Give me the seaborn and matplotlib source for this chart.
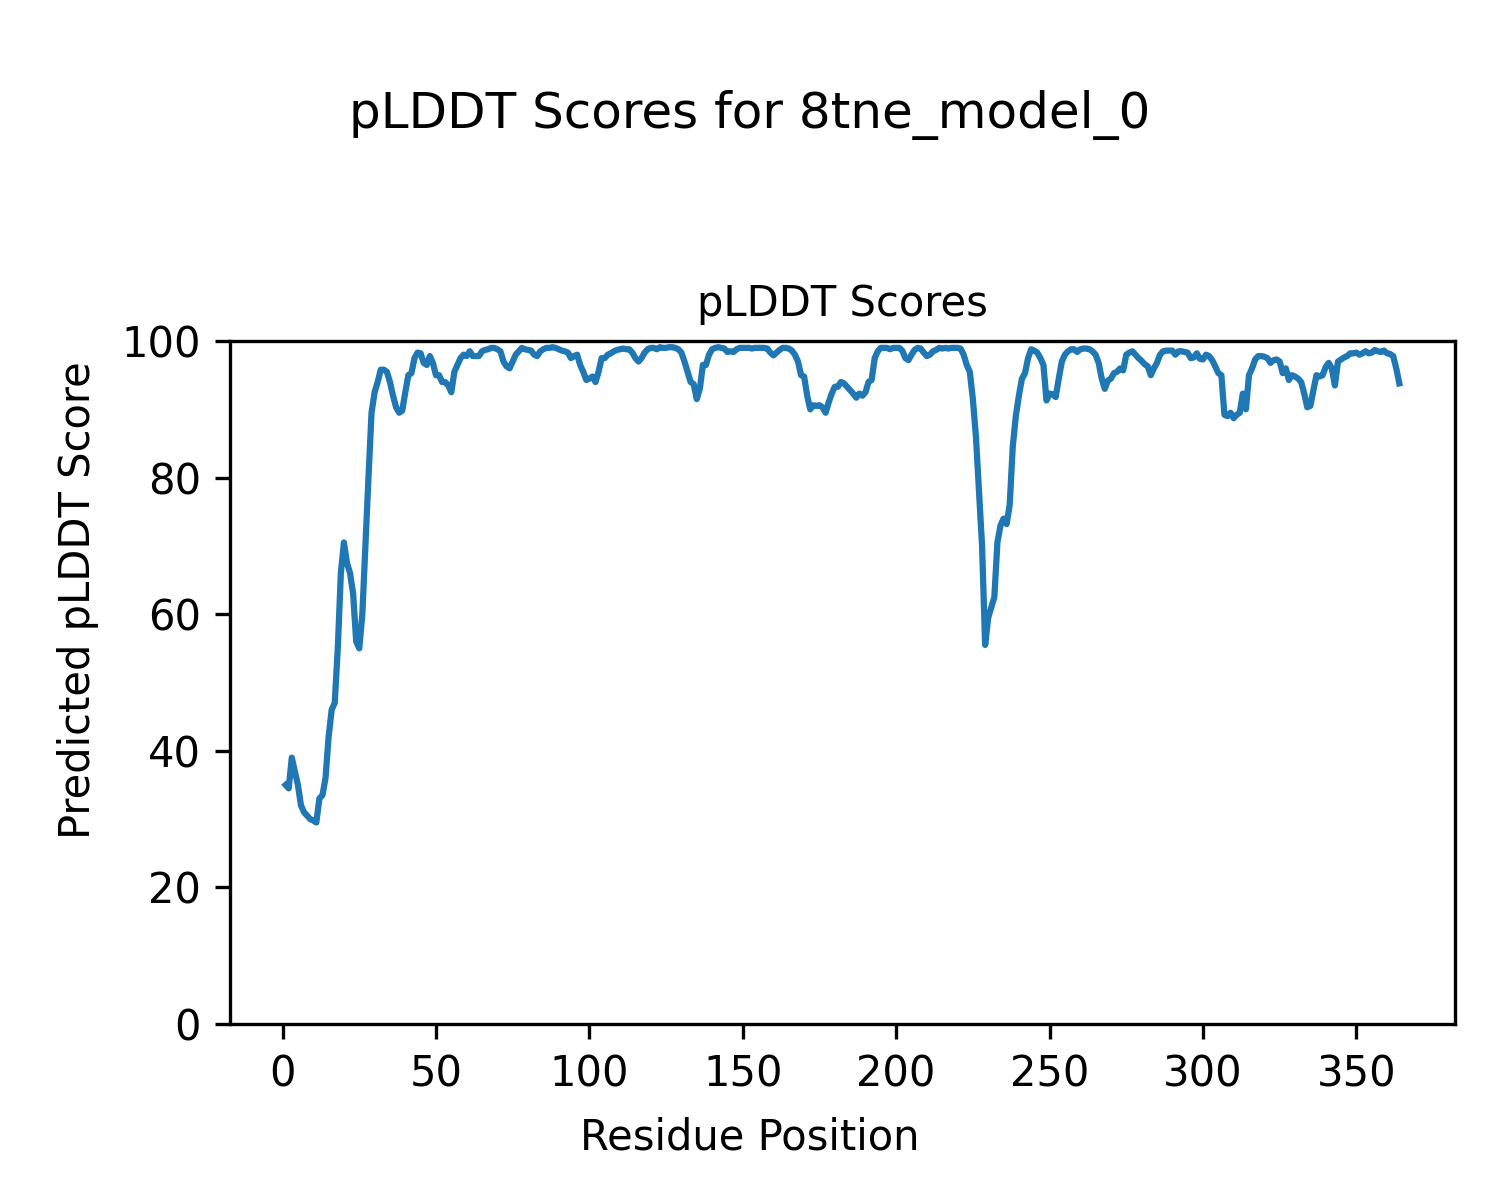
import matplotlib
matplotlib.use("Agg")
import matplotlib.pyplot as plt
import seaborn as sns
import numpy as np
import pandas as pd

residues = list(range(1, 365))
plddt = [
    35, 34.5, 39, 37, 35, 32, 31, 30.5, 30, 29.8,
    29.5, 33, 33.5, 36, 42, 46, 47, 55, 66, 70.5,
    67.5, 66, 63, 56, 55, 60, 70, 80, 89.5, 92.5,
    94, 95.8, 95.8, 95.5, 94, 92, 90.3, 89.5, 89.8, 92.5,
    95, 95.3, 97.5, 98.3, 98.2, 96.8, 96.5, 97.8, 96.8, 95,
    95, 94, 94, 93.5, 92.5, 95.5, 96.5, 97.5, 98, 97.8,
    98.5, 97.8, 97.8, 97.8, 98.5, 98.7, 98.8, 99, 99, 98.8,
    98.5, 97, 96.3, 96, 97, 98, 98.5, 99, 98.8, 98.7,
    98.6, 98, 97.8, 98.5, 98.8, 99, 99, 99.1, 99, 98.8,
    98.6, 98.5, 98.3, 97.5, 97.8, 98, 96.5, 95.5, 94.3, 94.5,
    94.8, 94, 95.5, 97.5, 97.5, 98, 98.2, 98.5, 98.7, 98.8,
    98.9, 98.8, 98.8, 98.3, 97.5, 97, 97.5, 98.3, 98.8, 99,
    99, 98.8, 99.1, 99, 99, 99.1, 99.1, 99, 98.8, 98.3,
    97, 95.5, 94, 93.7, 91.5, 93, 96.5, 96.5, 98, 98.8,
    99, 99.1, 99, 98.9, 98.4, 98.5, 98.4, 98.8, 99, 99,
    99, 99, 98.9, 99, 99, 99, 99, 98.9, 98.3, 97.9,
    98.3, 98.7, 99, 99, 98.9, 98.6, 98, 97, 95, 94.8,
    92, 90, 90.6, 90.5, 90.6, 90.3, 89.5, 91, 92.3, 93.3,
    93.3, 94, 93.8, 93.3, 92.8, 92.3, 91.7, 92.3, 92, 92.5,
    94, 94.3, 97.5, 98.5, 99, 99, 99, 98.8, 99, 99,
    99, 98.6, 97.5, 97.2, 98, 98.7, 99, 98.9, 98.3, 97.8,
    98, 98.5, 98.7, 99, 98.9, 99, 98.9, 99, 99, 99,
    98.9, 98, 96.5, 95.5, 91.5, 86, 78, 70, 55.5, 59.5,
    61, 62.5, 70.5, 73, 74, 73.2, 76, 84.5, 89, 92,
    94.5, 95.3, 97.5, 98.8, 98.6, 98.3, 97.5, 96.5, 91.3, 92.3,
    92.2, 91.8, 94.5, 97, 98, 98.5, 98.8, 98.8, 98.4, 98.8,
    98.9, 98.9, 98.8, 98.5, 98, 96.8, 94.5, 93, 94.2, 94.5,
    95.3, 95.5, 96, 95.7, 98, 98.3, 98.5, 98, 97.5, 97.1,
    96.6, 96.3, 95, 96, 96.8, 98, 98.5, 98.6, 98.6, 98.6,
    98, 98.5, 98.5, 98.4, 98.3, 97.5, 97.6, 98.2, 97.4, 97.3,
    98, 97.8, 97.2, 96.3, 95.3, 95, 89.2, 89, 89.5, 88.7,
    89.2, 89.5, 92.3, 90, 95, 96, 97.3, 97.8, 97.8, 97.7,
    97.5, 96.8, 97.2, 97.3, 97, 95.3, 96, 94.3, 95, 94.8,
    94.5, 94, 92.3, 90.3, 90.5, 92.8, 95, 94.8, 95, 96.2,
    96.8, 96, 93.5, 97, 97.3, 97.6, 97.8, 98.2, 98.2, 98.3,
    98, 98.2, 98.5, 98.2, 98.3, 98.7, 98.5, 98.4, 98.6, 98.2,
    98.1, 97.8, 96, 93.8,
]

df = pd.DataFrame({"Residue Position": residues, "pLDDT": plddt})

fig = plt.figure(figsize=(5, 4), dpi=300)
ax = fig.add_axes([0.1533, 0.1467, 0.8167, 0.5691])
sns.lineplot(data=df, x="Residue Position", y="pLDDT", ax=ax, color="#1f77b4", linewidth=1.5)
ax.set_ylim(0, 100)
ax.set_yticks([0, 20, 40, 60, 80, 100])
ax.set_xticks([0, 50, 100, 150, 200, 250, 300, 350])
ax.set_xlabel("")
ax.set_ylabel("")
ax.set_title("pLDDT Scores", fontsize=10)
fig.supxlabel("Residue Position", x=0.5, y=0.052, va="center", fontsize=10)
fig.supylabel("Predicted pLDDT Score", x=0.052, y=0.5, ha="center", fontsize=10)
fig.suptitle("pLDDT Scores for 8tne_model_0", y=0.925)
fig.savefig("out.png", dpi=300)
